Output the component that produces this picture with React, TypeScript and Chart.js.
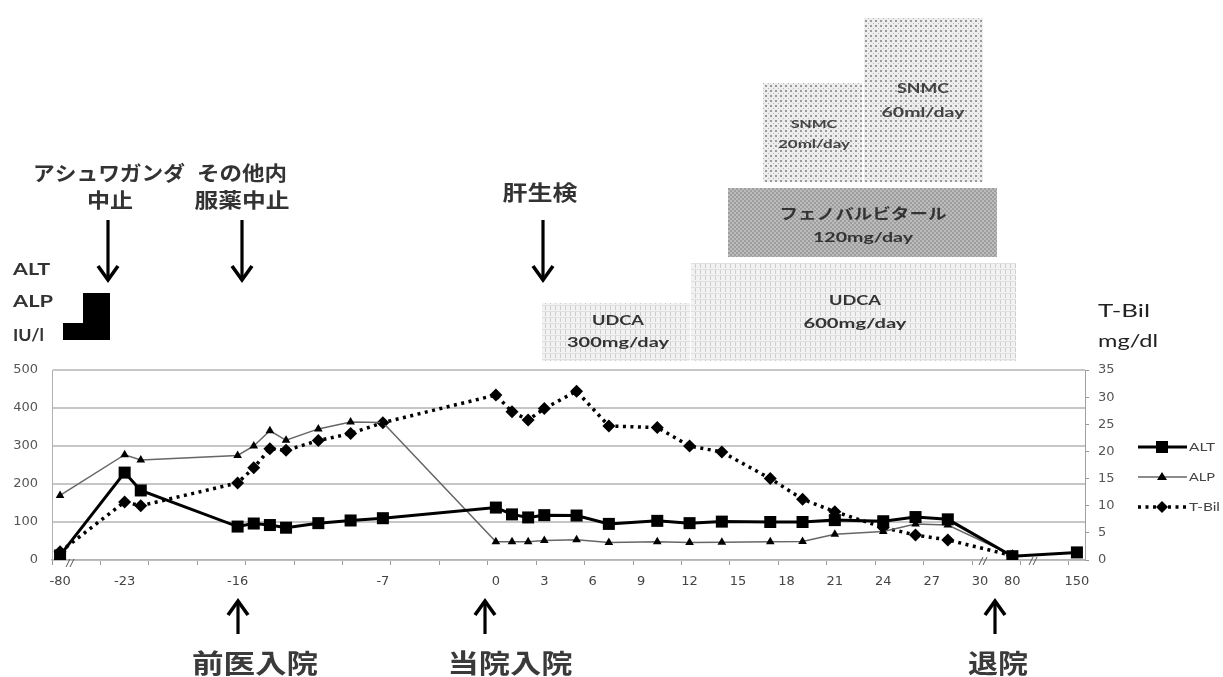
import React, { useEffect, useRef } from 'react';
import { Chart, registerables } from 'chart.js';

Chart.register(...registerables);

// ---- data (days relative to admission) ----
const altDays = [-80, -23, -22, -16, -15, -14, -13, -11, -9, -7, 0, 1, 2, 3, 5, 7, 10, 12, 14, 17, 19, 21, 24, 26, 28, 80, 150];
const altValues = [12, 230, 183, 88, 96, 92, 85, 97, 104, 110, 138, 120, 112, 118, 117, 95, 103, 97, 101, 100, 100, 105, 102, 113, 107, 10, 20];

const alpDays = [-80, -23, -22, -16, -15, -14, -13, -11, -9, -7, 0, 1, 2, 3, 5, 7, 10, 12, 14, 17, 19, 21, 24, 26, 28, 80];
const alpValues = [170, 277, 263, 275, 300, 340, 315, 345, 363, 362, 48, 48, 48, 51, 53, 46, 48, 46, 47, 48, 49, 68, 75, 95, 92, 12];

const tbilDays = [-80, -23, -22, -16, -15, -14, -13, -11, -9, -7, 0, 1, 2, 3, 5, 7, 10, 12, 14, 17, 19, 21, 24, 26, 28, 80];
const tbilValues = [1.5, 10.7, 10.0, 14.2, 17.0, 20.5, 20.2, 22.0, 23.3, 25.3, 30.4, 27.3, 25.8, 27.9, 31.1, 24.7, 24.4, 21.0, 19.9, 15.0, 11.2, 8.9, 6.0, 4.6, 3.7, 0.8];

const xTickDays = [-80, -23, -16, -7, 0, 3, 6, 9, 12, 15, 18, 21, 24, 27, 30, 80, 150];
const leftAxis = { min: 0, max: 500, step: 100 };
const rightAxis = { min: 0, max: 35, step: 5 };

// broken x axis: far-away days are drawn in compressed category slots
const axisBreaks: Record<number, number> = { [-80]: -27, 80: 32, 150: 36 };
const slot = (d: number) => (axisBreaks[d] !== undefined ? axisBreaks[d] : d);
const SLOT_MIN = -27.5;
const SLOT_MAX = 36.5;

const toPoints = (days: number[], vals: number[]) => days.map((d, i) => ({ x: slot(d), y: vals[i] }));

function makePattern(kind: string): CanvasPattern | string {
  const t = document.createElement('canvas');
  const c = t.getContext('2d')!;
  if (kind === 'udca') {
    t.width = 5; t.height = 6;
    c.fillStyle = '#f2f2f2'; c.fillRect(0, 0, 5, 6);
    c.fillStyle = '#cdcdcd'; c.fillRect(0, 0, 1, 4);
    c.fillStyle = '#e0e0e0'; c.fillRect(0, 5, 5, 1);
  } else if (kind === 'pheno') {
    t.width = 4; t.height = 4;
    c.fillStyle = '#bcbcbc'; c.fillRect(0, 0, 4, 4);
    c.fillStyle = '#9e9e9e'; c.fillRect(0, 0, 2, 2); c.fillRect(2, 2, 2, 2);
  } else {
    t.width = 5; t.height = 5;
    c.fillStyle = '#ededed'; c.fillRect(0, 0, 5, 5);
    c.fillStyle = '#9a9a9a'; c.fillRect(0, 0, 2, 2);
    c.fillStyle = '#b8b8b8'; c.fillRect(3, 3, 1, 1);
  }
  return c.createPattern(t, 'repeat') || '#ddd';
}

function drawFit(ctx: CanvasRenderingContext2D, text: string, x: number, cy: number, font: string, color: string, targetW: number, align: 'center' | 'left' = 'center') {
  ctx.save();
  ctx.font = font;
  ctx.fillStyle = color;
  ctx.textBaseline = 'middle';
  ctx.textAlign = 'left';
  const w = ctx.measureText(text).width || 1;
  const sx = targetW / w;
  const left = align === 'center' ? x - targetW / 2 : x;
  ctx.translate(left, cy);
  ctx.scale(sx, 1);
  ctx.fillText(text, 0, 0);
  ctx.restore();
}

function arrow(ctx: CanvasRenderingContext2D, x: number, tail: number, head: number) {
  const dir = head > tail ? 1 : -1;
  ctx.save();
  ctx.strokeStyle = '#000';
  ctx.lineWidth = 3.2;
  ctx.lineCap = 'butt';
  ctx.beginPath();
  ctx.moveTo(x, tail);
  ctx.lineTo(x, head - dir * 1);
  ctx.stroke();
  ctx.lineWidth = 3.6;
  ctx.lineJoin = 'miter';
  ctx.beginPath();
  ctx.moveTo(x - 10, head - dir * 14);
  ctx.lineTo(x, head);
  ctx.lineTo(x + 10, head - dir * 14);
  ctx.stroke();
  ctx.restore();
}

const CJK = '"Noto Sans CJK JP", sans-serif';
const LAT = 'Lato, "Open Sans", sans-serif';

const annotationPlugin = {
  id: 'annotations',
  afterDraw(chart: any) {
    const ctx: CanvasRenderingContext2D = chart.ctx;
    ctx.save();

    // treatment boxes
    const udca = makePattern('udca');
    const pheno = makePattern('pheno');
    const snmc = makePattern('snmc');
    const box = (x1: number, y1: number, x2: number, y2: number, fill: any) => {
      ctx.fillStyle = fill;
      ctx.fillRect(x1, y1, x2 - x1, y2 - y1);
    };
    box(542, 303, 690, 361, udca);
    box(691, 263, 1016, 361, udca);
    box(728, 188, 997, 257, pheno);
    box(763, 83, 862, 182, snmc);
    box(864, 18, 983, 182, snmc);

    const bf = `bold 14px ${LAT}`;
    drawFit(ctx, 'UDCA', 618, 320, bf, '#333', 52);
    drawFit(ctx, '300mg/day', 618, 342, bf, '#333', 102);
    drawFit(ctx, 'UDCA', 855, 300, bf, '#333', 52);
    drawFit(ctx, '600mg/day', 855, 323, bf, '#333', 103);
    drawFit(ctx, 'フェノバルビタール', 863, 213, `bold 15px ${CJK}`, '#333', 167);
    drawFit(ctx, '120mg/day', 863, 237, bf, '#333', 100);
    drawFit(ctx, 'SNMC', 814, 124, `bold 12px ${LAT}`, '#444', 46);
    drawFit(ctx, '20ml/day', 814, 144, `bold 12px ${LAT}`, '#444', 72);
    drawFit(ctx, 'SNMC', 923, 89, `bold 13px ${LAT}`, '#444', 52);
    drawFit(ctx, '60ml/day', 923, 113, `bold 13px ${LAT}`, '#444', 83);

    // top event labels and arrows
    const tf = `bold 20px ${CJK}`;
    drawFit(ctx, 'アシュワガンダ', 109, 173, tf, '#333', 152);
    drawFit(ctx, '中止', 110, 200, tf, '#333', 46);
    drawFit(ctx, 'その他内', 242, 173, tf, '#333', 90);
    drawFit(ctx, '服薬中止', 242, 200, tf, '#333', 95);
    drawFit(ctx, '肝生検', 540, 192, `bold 21px ${CJK}`, '#333', 75);
    arrow(ctx, 108, 220, 280);
    arrow(ctx, 242, 220, 280);
    arrow(ctx, 543, 220, 280);

    // bottom event labels and arrows
    const bf2 = `bold 26px ${CJK}`;
    arrow(ctx, 238, 634, 601);
    arrow(ctx, 485, 634, 601);
    arrow(ctx, 995, 634, 601);
    drawFit(ctx, '前医入院', 255, 663, bf2, '#3a3a3a', 126);
    drawFit(ctx, '当院入院', 510, 663, bf2, '#3a3a3a', 125);
    drawFit(ctx, '退院', 998, 663, bf2, '#3a3a3a', 60);

    // axis unit labels
    drawFit(ctx, 'ALT', 13, 270, `bold 17px ${LAT}`, '#333', 37, 'left');
    drawFit(ctx, 'ALP', 13, 302, `bold 17px ${LAT}`, '#333', 40, 'left');
    drawFit(ctx, 'IU/l', 13, 336, `bold 17px ${LAT}`, '#333', 31, 'left');
    ctx.fillStyle = '#000';
    ctx.beginPath();
    ctx.moveTo(83, 293); ctx.lineTo(110, 293); ctx.lineTo(110, 340);
    ctx.lineTo(63, 340); ctx.lineTo(63, 323); ctx.lineTo(83, 323);
    ctx.closePath(); ctx.fill();

    drawFit(ctx, 'T-Bil', 1098, 312, `17px ${LAT}`, '#222', 52, 'left');
    drawFit(ctx, 'mg/dl', 1098, 342, `17px ${LAT}`, '#222', 60, 'left');

    // axis break marks
    ctx.strokeStyle = '#555';
    ctx.lineWidth = 1;
    const brk = (x: number, y: number) => {
      for (const dx of [0, 4]) {
        ctx.beginPath();
        ctx.moveTo(x + dx - 2, y + 4);
        ctx.lineTo(x + dx + 2, y - 4);
        ctx.stroke();
      }
    };
    brk(68, 563);
    brk(981, 561);
    brk(1031, 561);

    // legend
    const lx1 = 1138, lx2 = 1187, mx = 1162;
    ctx.strokeStyle = '#000';
    ctx.lineWidth = 3;
    ctx.beginPath(); ctx.moveTo(lx1, 447); ctx.lineTo(lx2, 447); ctx.stroke();
    ctx.fillStyle = '#000';
    ctx.fillRect(mx - 6, 441, 12, 12);
    ctx.strokeStyle = '#666';
    ctx.lineWidth = 1.5;
    ctx.beginPath(); ctx.moveTo(lx1, 477); ctx.lineTo(lx2, 477); ctx.stroke();
    ctx.beginPath(); ctx.moveTo(mx, 472); ctx.lineTo(mx + 5, 480); ctx.lineTo(mx - 5, 480); ctx.closePath(); ctx.fill();
    ctx.strokeStyle = '#000';
    ctx.lineWidth = 3.5;
    ctx.setLineDash([3, 4.5]);
    ctx.beginPath(); ctx.moveTo(lx1, 507); ctx.lineTo(lx2, 507); ctx.stroke();
    ctx.setLineDash([]);
    ctx.beginPath(); ctx.moveTo(mx, 501); ctx.lineTo(mx + 6, 507); ctx.lineTo(mx, 513); ctx.lineTo(mx - 6, 507); ctx.closePath(); ctx.fill();
    drawFit(ctx, 'ALT', 1189, 447, `12px ${LAT}`, '#444', 26, 'left');
    drawFit(ctx, 'ALP', 1189, 477, `12px ${LAT}`, '#444', 26, 'left');
    drawFit(ctx, 'T-Bil', 1189, 507, `12px ${LAT}`, '#444', 31, 'left');

    ctx.restore();
  },
};

export default function App() {
  const ref = useRef<HTMLCanvasElement>(null);

  useEffect(() => {
    if (!ref.current) return;
    const tickFont = { family: '"DejaVu Sans", sans-serif', size: 13 };
    const chart = new Chart(ref.current, {
      type: 'line',
      data: {
        datasets: [
          {
            label: 'ALT',
            data: toPoints(altDays, altValues),
            borderColor: '#000',
            backgroundColor: '#000',
            borderWidth: 3,
            pointStyle: 'rect',
            pointRadius: 8.5,
            pointBackgroundColor: '#000',
            pointBorderColor: '#000',
            pointBorderWidth: 0,
            yAxisID: 'y',
          },
          {
            label: 'ALP',
            data: toPoints(alpDays, alpValues),
            borderColor: '#666',
            backgroundColor: '#000',
            borderWidth: 1.5,
            pointStyle: 'triangle',
            pointRadius: 5,
            pointBackgroundColor: '#000',
            pointBorderColor: '#000',
            pointBorderWidth: 0,
            yAxisID: 'y',
          },
          {
            label: 'T-Bil',
            data: toPoints(tbilDays, tbilValues),
            borderColor: '#000',
            backgroundColor: '#000',
            borderWidth: 3.5,
            borderDash: [3, 4.5],
            pointStyle: 'rectRot',
            pointRadius: 6.5,
            pointBackgroundColor: '#000',
            pointBorderColor: '#000',
            pointBorderWidth: 0,
            yAxisID: 'y1',
          },
        ],
      },
      options: {
        animation: false,
        responsive: false,
        devicePixelRatio: 1,
        layout: { padding: { top: 370, left: 0, right: 78, bottom: 87 } },
        plugins: { legend: { display: false }, tooltip: { enabled: false } },
        scales: {
          x: {
            type: 'linear',
            min: SLOT_MIN,
            max: SLOT_MAX,
            afterBuildTicks: (s: any) => {
              const t: any[] = xTickDays.map((d) => ({ value: slot(d) }));
              for (let v = SLOT_MIN; v <= SLOT_MAX + 0.01; v += 3) t.push({ value: v });
              t.sort((a, b) => a.value - b.value);
              s.ticks = t;
            },
            afterFit: (s: any) => { s.height = 30; },
            ticks: {
              autoSkip: false,
              maxRotation: 0,
              minRotation: 0,
              padding: 9,
              color: '#444',
              font: tickFont,
              callback: (v: any) => {
                const i = xTickDays.findIndex((d) => slot(d) === v);
                return i >= 0 ? String(xTickDays[i]) : '';
              },
            },
            grid: {
              drawOnChartArea: false,
              tickLength: 5,
              color: (c: any) => (c.tick && Number.isInteger(c.tick.value) ? 'rgba(0,0,0,0)' : '#9a9a9a'),
            },
            border: { display: true, color: '#b5b5b5', width: 1.5 },
          },
          y: {
            position: 'left',
            min: leftAxis.min,
            max: leftAxis.max,
            afterFit: (s: any) => { s.width = 52; },
            ticks: { stepSize: leftAxis.step, color: '#555', font: tickFont, padding: 14 },
            grid: { color: '#c6c6c6', lineWidth: 2, drawTicks: false },
            border: { display: true, color: '#b0b0b0', width: 1 },
          },
          y1: {
            position: 'right',
            min: rightAxis.min,
            max: rightAxis.max,
            afterFit: (s: any) => { s.width = 60; },
            ticks: { stepSize: rightAxis.step, color: '#555', font: tickFont, padding: 9 },
            grid: { drawOnChartArea: false, tickLength: 4, color: '#999' },
            border: { display: true, color: '#a0a0a0', width: 1 },
          },
        },
      },
      plugins: [annotationPlugin],
    } as any);
    return () => chart.destroy();
  }, []);

  return (
    <div style={{ position: 'absolute', left: 0, top: 0, width: 1223, height: 677, background: '#fff' }}>
      <canvas ref={ref} width={1223} height={677} style={{ width: 1223, height: 677, display: 'block' }} />
    </div>
  );
}
